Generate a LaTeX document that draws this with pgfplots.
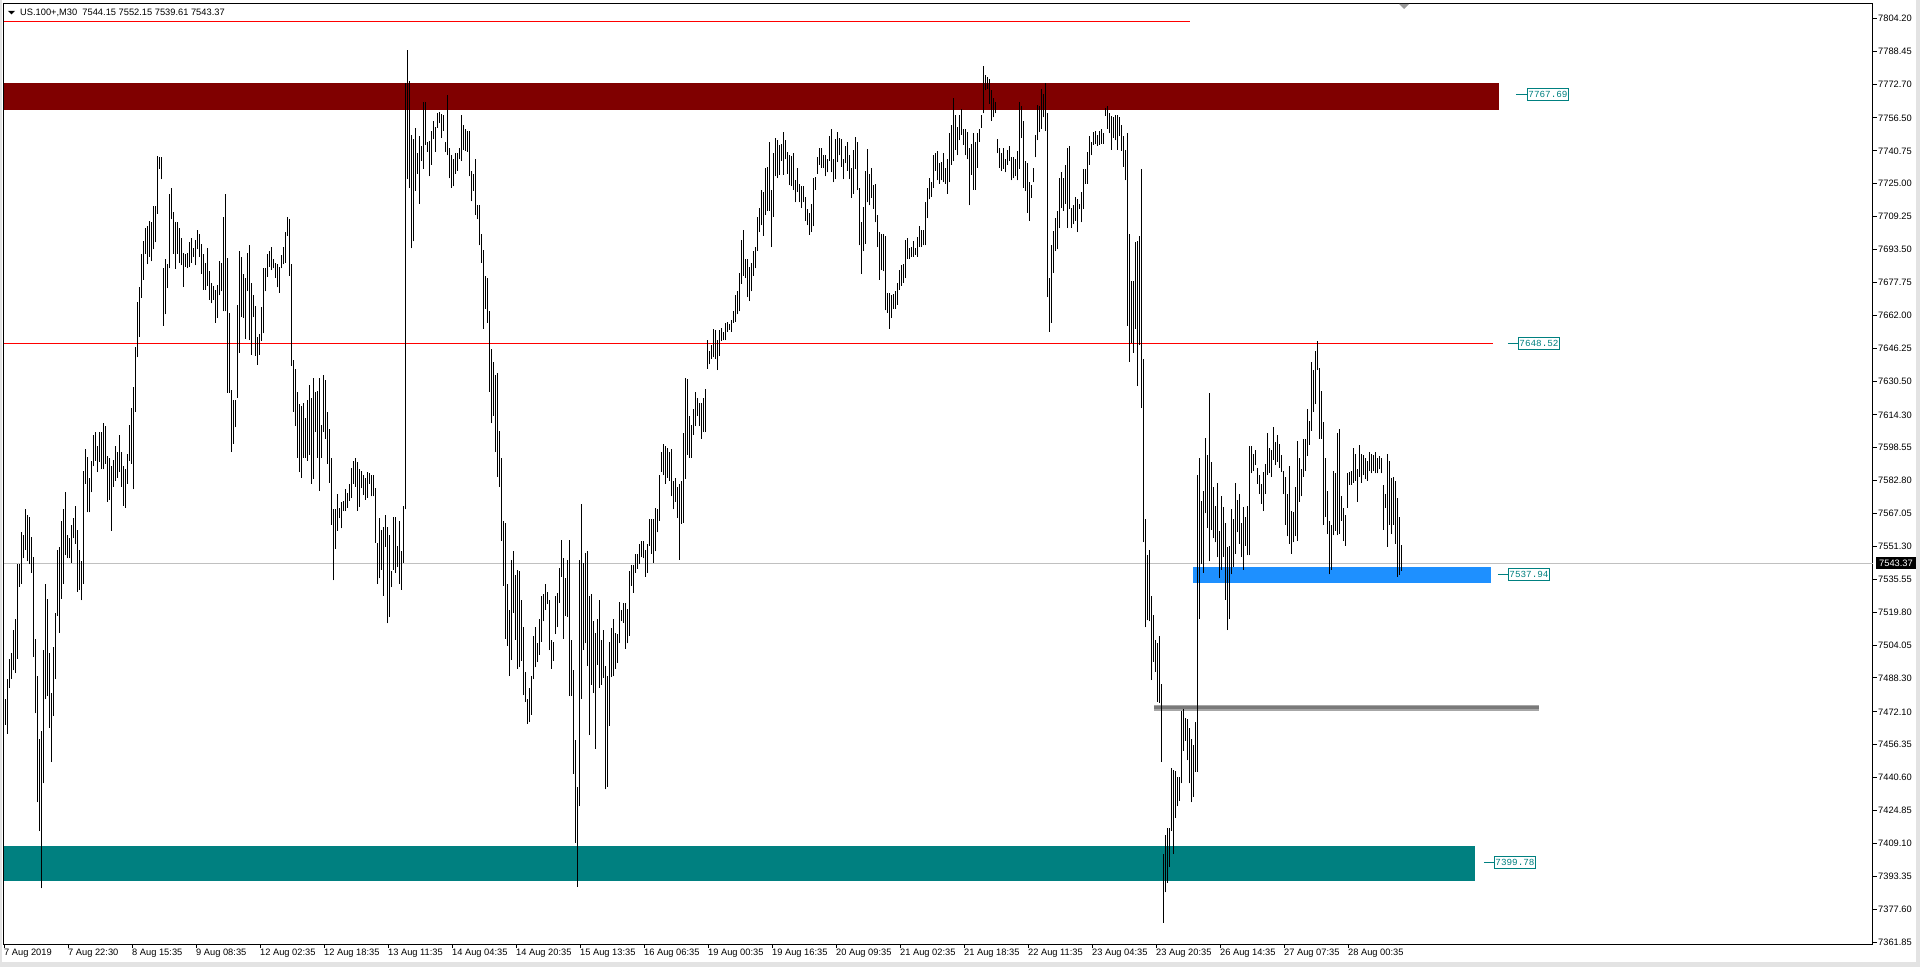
\documentclass[border=0pt]{standalone}
\usepackage{fontspec}
\setmainfont{Liberation Sans}
\newfontfamily\monofont{Liberation Mono}
\usepackage{pgfplots}
\usepackage{pgfplotstable}
\pgfplotsset{compat=1.18}
\definecolor{mtmaroon}{HTML}{800000}
\definecolor{mtblue}{HTML}{1E90FF}
\definecolor{mtteal}{HTML}{008080}
\definecolor{mtsilver}{HTML}{C0C0C0}
\definecolor{mtgray}{HTML}{808080}
\definecolor{mtframe}{HTML}{E3E3E3}
\pgfplotstableread{
lo hi
7465.8 7478.2
7461.7 7487.8
7483.7 7497.5
7487.8 7500.2
7492.0 7511.2
7490.6 7516.7
7497.5 7542.8
7531.8 7542.8
7533.2 7558.0
7545.6 7556.6
7549.7 7569.0
7544.2 7566.2
7542.8 7565.4
7538.7 7556.0
7498.3 7546.1
7471.4 7507.1
7428.7 7489.2
7415.0 7459.0
7387.5 7463.1
7437.8 7501.6
7478.2 7533.2
7479.6 7526.3
7464.5 7500.2
7448.0 7481.0
7470.0 7503.0
7487.8 7519.5
7518.1 7549.7
7509.9 7551.1
7526.3 7563.5
7533.2 7569.0
7547.0 7577.2
7545.6 7556.6
7545.6 7555.2
7543.4 7561.5
7555.2 7564.9
7552.5 7570.9
7529.6 7559.4
7530.5 7549.7
7525.5 7544.2
7533.2 7587.4
7581.4 7597.9
7567.6 7594.3
7567.6 7584.1
7577.2 7592.4
7589.6 7604.7
7592.4 7606.1
7586.9 7599.2
7591.8 7606.1
7588.2 7606.1
7588.2 7610.2
7591.0 7608.9
7572.6 7594.6
7573.7 7593.7
7558.8 7589.6
7580.0 7592.9
7582.7 7599.2
7584.1 7596.5
7586.9 7604.7
7580.0 7596.5
7570.9 7589.6
7569.8 7588.2
7581.4 7595.7
7592.4 7609.4
7591.0 7617.6
7578.6 7627.5
7615.7 7646.8
7641.9 7668.2
7651.5 7675.4
7670.4 7691.4
7679.0 7697.4
7691.4 7703.7
7686.4 7704.6
7690.0 7707.0
7687.8 7706.5
7693.6 7714.2
7696.9 7714.2
7710.6 7738.1
7732.1 7737.6
7727.1 7737.6
7657.0 7684.5
7662.5 7689.2
7674.9 7686.4
7684.5 7720.0
7707.9 7723.0
7691.4 7711.7
7684.2 7706.5
7691.4 7706.5
7687.2 7703.7
7685.9 7699.1
7675.7 7691.9
7685.3 7691.4
7684.5 7691.9
7685.3 7696.9
7687.2 7699.1
7690.0 7694.1
7685.9 7698.2
7693.6 7702.9
7690.0 7701.0
7681.7 7696.3
7674.3 7691.4
7674.3 7687.2
7676.2 7694.1
7669.4 7683.1
7667.7 7677.6
7669.4 7676.2
7658.4 7674.3
7660.6 7676.5
7671.6 7688.1
7673.5 7687.2
7663.9 7709.2
7663.9 7720.0
7624.8 7689.4
7624.8 7663.3
7596.5 7626.2
7600.6 7621.2
7608.3 7621.2
7622.6 7667.1
7644.1 7692.7
7661.1 7690.0
7660.6 7681.7
7650.6 7679.8
7673.5 7691.9
7650.1 7695.5
7643.2 7677.6
7661.1 7671.6
7642.7 7666.6
7638.3 7651.5
7643.2 7652.9
7649.6 7666.0
7653.4 7684.5
7673.5 7684.5
7680.4 7691.4
7685.3 7692.7
7683.6 7694.6
7684.5 7689.2
7679.8 7687.2
7675.4 7686.4
7672.7 7685.3
7684.5 7690.8
7686.4 7694.6
7687.2 7701.8
7700.2 7709.2
7680.9 7707.9
7637.7 7686.4
7615.7 7640.5
7608.9 7636.3
7593.7 7625.4
7586.9 7619.3
7584.1 7618.5
7593.7 7619.9
7593.7 7613.0
7592.4 7621.2
7595.1 7628.7
7581.4 7622.6
7583.6 7632.2
7606.1 7625.4
7593.7 7625.9
7578.0 7632.2
7593.7 7609.4
7606.1 7633.6
7602.8 7630.9
7591.0 7615.7
7581.9 7607.5
7561.6 7593.7
7535.1 7569.0
7550.3 7569.0
7558.8 7576.4
7564.9 7569.8
7559.9 7572.6
7568.2 7573.1
7568.2 7578.6
7569.8 7577.0
7573.1 7581.4
7574.5 7589.1
7581.4 7592.4
7580.0 7593.7
7568.4 7591.8
7570.4 7588.2
7579.1 7587.4
7575.9 7585.5
7573.7 7584.1
7574.5 7586.9
7581.4 7586.3
7575.3 7585.5
7575.3 7585.5
7553.0 7579.4
7533.2 7553.0
7536.0 7564.9
7540.1 7559.4
7527.7 7560.7
7551.1 7566.2
7514.5 7560.7
7517.5 7556.6
7531.8 7539.6
7540.1 7565.4
7538.7 7565.4
7541.5 7551.7
7533.2 7563.5
7530.5 7548.9
7543.4 7570.9
7569.0 7773.3
7727.1 7789.0
7723.0 7774.4
7694.1 7748.5
7697.4 7746.3
7721.6 7751.9
7729.9 7739.5
7715.5 7747.7
7735.9 7743.0
7732.1 7764.2
7743.6 7764.2
7740.3 7745.0
7728.5 7745.5
7734.0 7750.5
7746.3 7755.2
7740.3 7752.4
7751.9 7758.7
7754.1 7759.3
7746.9 7758.5
7750.5 7757.9
7740.3 7745.0
7738.6 7767.5
7727.6 7742.2
7723.0 7738.6
7723.8 7736.7
7729.9 7739.5
7731.2 7739.5
7736.7 7742.2
7735.9 7757.9
7741.4 7753.2
7740.9 7751.3
7740.3 7750.5
7728.5 7750.5
7716.6 7731.2
7721.6 7729.9
7710.0 7736.7
7707.9 7714.7
7695.5 7714.7
7687.2 7701.0
7655.6 7693.3
7665.2 7680.9
7658.4 7679.8
7625.4 7663.9
7610.2 7646.0
7613.8 7639.7
7596.5 7633.6
7584.7 7634.2
7580.0 7606.7
7553.9 7593.7
7532.4 7563.5
7507.1 7562.7
7503.8 7533.2
7489.2 7520.9
7496.9 7545.0
7519.5 7548.9
7506.6 7537.4
7492.8 7540.1
7493.4 7539.6
7496.6 7525.5
7480.1 7512.6
7476.9 7491.1
7466.4 7478.2
7467.2 7483.7
7470.8 7489.2
7487.8 7508.5
7493.4 7512.6
7496.1 7504.9
7499.4 7516.7
7505.7 7527.7
7515.4 7528.5
7520.9 7533.2
7523.6 7529.7
7501.6 7525.8
7492.8 7506.6
7496.6 7505.7
7509.3 7527.7
7512.6 7529.1
7524.1 7540.9
7536.8 7554.4
7507.1 7545.6
7518.1 7536.0
7517.5 7545.0
7479.6 7554.4
7479.6 7506.6
7442.5 7492.0
7409.5 7458.4
7388.3 7436.1
7426.8 7545.0
7478.2 7571.5
7501.6 7543.4
7504.9 7548.4
7494.0 7548.9
7460.9 7527.7
7485.1 7528.5
7481.0 7515.4
7454.3 7509.9
7494.7 7516.7
7483.7 7525.5
7485.1 7506.6
7488.4 7511.2
7435.0 7493.9
7436.1 7489.2
7465.3 7505.7
7488.7 7512.1
7489.2 7516.7
7492.8 7509.9
7495.6 7509.3
7504.9 7524.7
7515.4 7520.9
7514.8 7524.1
7502.4 7524.1
7504.9 7521.4
7508.5 7539.6
7532.4 7542.3
7529.1 7542.3
7538.7 7547.8
7540.7 7547.8
7542.8 7552.5
7546.2 7553.9
7545.6 7553.9
7536.8 7549.7
7538.7 7552.5
7551.7 7564.3
7547.8 7564.3
7543.4 7564.3
7548.9 7569.8
7558.0 7569.0
7563.5 7585.5
7586.9 7596.5
7585.5 7600.6
7581.4 7599.2
7584.1 7598.4
7582.7 7596.5
7575.3 7597.9
7569.0 7582.7
7572.6 7584.1
7564.9 7580.0
7545.0 7581.4
7562.1 7582.7
7562.7 7605.6
7583.6 7632.2
7595.1 7631.4
7593.7 7613.8
7593.7 7609.4
7604.7 7617.1
7608.9 7625.4
7613.8 7622.6
7608.9 7619.9
7602.8 7619.9
7606.1 7622.6
7606.1 7626.7
7636.3 7650.1
7638.5 7645.1
7641.3 7647.9
7641.9 7655.6
7641.3 7655.0
7635.8 7650.1
7642.4 7655.0
7649.6 7656.1
7650.1 7654.2
7650.1 7658.4
7654.2 7658.9
7655.0 7657.8
7654.2 7659.7
7658.4 7663.9
7658.9 7671.6
7662.5 7673.5
7663.9 7682.5
7677.1 7698.2
7680.9 7702.9
7679.8 7689.2
7670.7 7689.2
7668.8 7685.3
7673.5 7687.2
7680.9 7692.7
7684.5 7694.6
7692.7 7709.2
7701.8 7713.3
7705.1 7722.1
7700.2 7721.0
7710.0 7732.6
7712.0 7733.2
7712.0 7745.0
7694.6 7722.1
7709.2 7739.5
7728.5 7746.9
7727.6 7745.8
7729.3 7743.6
7735.9 7744.2
7729.3 7749.7
7736.7 7745.8
7729.9 7740.3
7724.4 7738.6
7723.8 7738.1
7722.1 7739.5
7716.1 7726.6
7721.0 7732.6
7716.1 7724.9
7713.3 7723.8
7716.1 7723.8
7707.3 7718.9
7705.1 7712.8
7700.7 7711.2
7701.8 7715.5
7704.6 7727.6
7722.1 7728.2
7729.9 7737.6
7734.0 7742.2
7732.6 7742.2
7732.6 7738.6
7728.5 7738.6
7730.4 7736.7
7735.9 7747.7
7730.4 7751.3
7725.7 7736.7
7727.1 7746.3
7735.4 7749.7
7738.6 7746.9
7733.2 7746.3
7727.1 7736.7
7734.8 7743.0
7731.2 7745.0
7727.1 7738.6
7718.3 7732.6
7720.2 7741.4
7732.1 7747.4
7722.1 7745.0
7695.5 7723.0
7681.7 7706.5
7692.7 7713.9
7696.3 7731.2
7716.1 7741.7
7714.7 7729.9
7718.3 7732.6
7712.8 7724.4
7706.5 7724.9
7694.6 7710.0
7679.0 7701.8
7683.6 7701.0
7683.1 7701.0
7664.4 7700.2
7663.3 7672.7
7655.6 7672.7
7660.6 7671.6
7665.2 7672.1
7665.2 7673.5
7667.1 7677.6
7674.3 7683.6
7676.2 7685.9
7677.6 7686.4
7679.8 7698.2
7689.2 7699.1
7689.2 7694.1
7690.0 7694.6
7690.0 7697.4
7690.8 7694.1
7690.0 7699.6
7694.6 7704.6
7694.6 7702.9
7695.5 7702.9
7695.5 7716.1
7708.4 7723.0
7717.5 7727.6
7718.9 7725.7
7723.0 7738.6
7731.2 7739.5
7726.6 7740.9
7724.9 7734.8
7726.6 7735.4
7725.7 7739.5
7724.9 7732.6
7720.2 7736.7
7725.7 7749.1
7734.0 7753.2
7735.9 7766.2
7741.4 7757.9
7738.6 7752.4
7745.8 7757.9
7748.5 7760.7
7743.6 7751.3
7738.6 7751.3
7736.7 7749.7
7714.7 7742.2
7729.3 7744.2
7722.1 7749.1
7722.1 7745.0
7732.6 7749.1
7745.0 7751.3
7751.9 7757.9
7758.7 7781.5
7769.7 7777.1
7770.5 7776.1
7763.4 7775.2
7755.2 7769.7
7756.8 7766.2
7758.7 7764.2
7739.5 7746.3
7732.6 7742.2
7731.2 7739.5
7732.1 7742.2
7730.4 7736.7
7734.0 7741.4
7735.9 7743.0
7726.6 7737.6
7727.6 7737.6
7728.5 7736.7
7726.6 7740.9
7732.1 7764.2
7746.9 7762.3
7723.0 7755.2
7721.6 7735.9
7711.2 7734.8
7707.3 7725.7
7718.3 7724.4
7725.7 7732.6
7737.6 7748.5
7745.8 7762.9
7749.7 7762.3
7751.3 7770.5
7756.8 7767.8
7750.5 7773.3
7670.7 7758.7
7654.2 7679.8
7658.4 7695.5
7682.5 7702.4
7692.7 7708.4
7693.6 7712.0
7703.7 7727.6
7713.3 7730.4
7712.0 7727.6
7715.5 7734.0
7703.7 7742.2
7712.8 7743.0
7703.7 7713.3
7705.6 7714.7
7707.3 7718.9
7701.8 7717.5
7712.8 7715.5
7706.5 7721.0
7712.8 7732.1
7724.9 7732.1
7724.9 7740.3
7734.0 7747.7
7738.6 7745.0
7743.6 7749.7
7744.2 7750.5
7743.0 7748.5
7743.6 7750.5
7744.2 7751.3
7744.2 7749.1
7757.4 7761.5
7751.3 7762.3
7749.1 7758.7
7741.4 7757.4
7746.9 7756.8
7745.8 7757.9
7741.4 7757.9
7747.7 7756.8
7740.9 7753.2
7733.2 7747.7
7726.6 7741.4
7657.0 7749.1
7639.7 7701.0
7648.7 7678.2
7644.1 7678.2
7655.6 7696.9
7628.1 7697.4
7647.9 7700.2
7617.6 7732.1
7553.3 7641.3
7512.6 7564.3
7515.9 7547.0
7515.4 7549.7
7487.3 7527.7
7496.1 7518.7
7491.2 7506.6
7476.9 7504.9
7476.3 7508.5
7448.0 7485.6
7371.0 7404.0
7385.6 7413.0
7390.2 7416.4
7397.7 7416.4
7415.0 7445.2
7404.0 7444.4
7421.3 7443.9
7426.8 7441.1
7429.6 7441.1
7437.8 7472.7
7453.5 7473.6
7458.2 7469.1
7448.8 7468.6
7437.8 7464.5
7428.7 7459.0
7431.5 7456.2
7443.3 7467.2
7443.3 7585.5
7516.7 7593.7
7542.8 7573.1
7538.7 7578.0
7567.1 7603.4
7559.9 7595.1
7544.2 7624.8
7559.4 7591.8
7555.2 7580.0
7553.3 7570.9
7546.2 7581.9
7536.0 7558.8
7540.1 7575.3
7546.2 7570.4
7525.8 7562.7
7511.2 7551.1
7516.7 7551.7
7537.9 7569.0
7541.5 7564.3
7547.8 7581.9
7558.0 7573.7
7552.5 7576.4
7546.2 7562.7
7540.1 7570.4
7551.7 7565.4
7547.0 7570.9
7547.0 7599.2
7586.3 7599.2
7587.4 7595.7
7590.2 7597.3
7581.4 7589.1
7576.4 7585.5
7571.7 7581.4
7568.2 7586.9
7576.4 7591.0
7585.5 7605.6
7586.3 7598.4
7584.7 7597.3
7592.9 7608.3
7590.2 7601.2
7591.8 7604.7
7589.1 7600.6
7586.9 7595.1
7576.4 7587.4
7561.6 7584.7
7556.1 7576.4
7552.5 7589.6
7547.8 7568.2
7553.3 7567.6
7556.1 7580.0
7553.9 7602.0
7572.6 7593.7
7575.3 7588.2
7584.7 7602.8
7587.4 7602.8
7594.6 7617.1
7600.0 7611.6
7606.7 7639.7
7615.7 7635.8
7619.3 7645.1
7635.8 7649.6
7602.8 7636.9
7602.8 7625.9
7561.6 7611.0
7565.4 7593.7
7557.2 7578.0
7537.9 7563.5
7540.1 7561.6
7556.6 7587.4
7558.8 7586.3
7556.6 7605.6
7557.2 7607.5
7563.5 7575.3
7553.9 7569.8
7551.7 7566.2
7569.8 7586.3
7580.8 7586.9
7580.8 7587.4
7581.9 7598.4
7582.7 7595.7
7572.6 7588.2
7584.7 7600.1
7581.9 7595.7
7585.5 7595.1
7583.6 7593.7
7582.7 7592.4
7587.4 7596.5
7586.3 7595.7
7587.4 7595.1
7586.3 7596.5
7586.3 7593.7
7588.2 7594.6
7586.3 7593.7
7559.4 7580.8
7569.8 7576.4
7551.1 7595.7
7561.6 7592.4
7557.2 7584.1
7561.6 7584.7
7552.5 7582.7
7536.8 7574.5
7537.4 7565.4
7539.6 7552.2
}\bardata
\begin{document}
\begin{tikzpicture}[x=1pt,y=1pt]
\begin{axis}[
  at={(0,0)}, anchor=south west,
  width=1869pt, height=940pt, scale only axis,
  xmin=-0.5, xmax=934, ymin=7360.9, ymax=7811.1,
  clip=false,
  axis line style={black, line width=1pt},
  tick align=outside, major tick length=4pt,
  tick style={black, line width=1pt},
  xtick pos=left, ytick pos=right, yticklabel pos=right,
  xtick={0,32,64,96,128,160,192,224,256,288,320,352,384,416,448,480,512,544,576,608,640,672},
  xticklabels={7 Aug 2019,7 Aug 22:30,8 Aug 15:35,9 Aug 08:35,12 Aug 02:35,12 Aug 18:35,13 Aug 11:35,14 Aug 04:35,14 Aug 20:35,15 Aug 13:35,16 Aug 06:35,19 Aug 00:35,19 Aug 16:35,20 Aug 09:35,21 Aug 02:35,21 Aug 18:35,22 Aug 11:35,23 Aug 04:35,23 Aug 20:35,26 Aug 14:35,27 Aug 07:35,28 Aug 00:35},
  ytick={7361.85,7377.60,7393.35,7409.10,7424.85,7440.60,7456.35,7472.10,7488.30,7504.05,7519.80,7535.55,7551.30,7567.05,7582.80,7598.55,7614.30,7630.50,7646.25,7662.00,7677.75,7693.50,7709.25,7725.00,7740.75,7756.50,7772.70,7788.45,7804.20},
  yticklabels={7361.85,7377.60,7393.35,7409.10,7424.85,7440.60,7456.35,7472.10,7488.30,7504.05,7519.80,7535.55,7551.30,7567.05,7582.80,7598.55,7614.30,7630.50,7646.25,7662.00,7677.75,7693.50,7709.25,7725.00,7740.75,7756.50,7772.70,7788.45,7804.20},
  ticklabel style={font=\fontsize{9.3}{10}\selectfont, text=black},
  xticklabel style={anchor=north west, inner sep=0pt, xshift=-1pt, yshift=-1pt},
  yticklabel style={anchor=west, inner sep=0pt, xshift=1pt},
]
\coordinate (O) at (rel axis cs:0,0);
\fill[mtmaroon] (axis cs:-0.5,7760.1) rectangle (axis cs:747,7773.4);
\fill[mtteal] (axis cs:-0.5,7391.2) rectangle (axis cs:735,7407.8);
\fill[mtblue] (axis cs:594,7533.9) rectangle (axis cs:743,7541.5);
\draw[mtsilver, line width=1pt] (axis cs:-0.5,7543.37) -- (axis cs:934,7543.37);
\draw[red, line width=1.5pt] (axis cs:-0.5,7648.52) -- (axis cs:744,7648.52);
\draw[red, line width=1pt] (axis cs:-0.5,7802.95) -- (axis cs:592.5,7802.95);
\draw[mtgray!70, line width=6pt] (axis cs:574.5,7474.0) -- (axis cs:767,7474.0);
\draw[mtgray!95!black, line width=3.5pt] (axis cs:574.5,7474.2) -- (axis cs:767,7474.2);
\addplot[draw=none, mark=none, forget plot,
  error bars/.cd, y dir=plus, y explicit, error mark=none,
  error bar style={draw=black, solid, line width=1.1pt}]
  table[x expr=\coordindex+0.25, y=lo, y error plus expr=\thisrow{hi}-\thisrow{lo}] {\bardata};
\draw[mtteal, line width=1pt] (axis cs:755.5,7767.69) -- (axis cs:761,7767.69)
  node[anchor=west, draw=mtteal, fill=white, line width=1pt, inner xsep=1pt, inner ysep=0pt, minimum height=12pt, text=mtteal, font=\monofont\fontsize{9.3}{10}\selectfont] {7767.69};
\draw[mtteal, line width=1pt] (axis cs:751.5,7648.52) -- (axis cs:756.5,7648.52)
  node[anchor=west, draw=mtteal, fill=white, line width=1pt, inner xsep=1pt, inner ysep=0pt, minimum height=12pt, text=mtteal, font=\monofont\fontsize{9.3}{10}\selectfont] {7648.52};
\draw[mtteal, line width=1pt] (axis cs:746.5,7537.94) -- (axis cs:751.5,7537.94)
  node[anchor=west, draw=mtteal, fill=white, line width=1pt, inner xsep=1pt, inner ysep=0pt, minimum height=12pt, text=mtteal, font=\monofont\fontsize{9.3}{10}\selectfont] {7537.94};
\draw[mtteal, line width=1pt] (axis cs:739.5,7399.78) -- (axis cs:744.5,7399.78)
  node[anchor=west, draw=mtteal, fill=white, line width=1pt, inner xsep=1pt, inner ysep=0pt, minimum height=12pt, text=mtteal, font=\monofont\fontsize{9.3}{10}\selectfont] {7399.78};
\node[anchor=west, fill=black, text=white, inner xsep=3.5pt, inner ysep=0pt, minimum height=12pt, font=\fontsize{9.3}{10}\selectfont, xshift=2.5pt] at (axis cs:934,7543.37) {7543.37};
\end{axis}
\begin{scope}[shift={(O)}]
\fill[mtframe] (-4,-23) rectangle (-1.5,944);
\fill[mtframe] (-4,-23) rectangle (1916,-18);
\fill[mtframe] (1911.5,-23) rectangle (1916,944);
\fill[mtgray!80] (1395,940) -- (1405,940) -- (1400,935) -- cycle;
\fill[black] (4,933) -- (11,933) -- (7.5,929.5) -- cycle;
\node[anchor=base west, inner sep=0pt, font=\fontsize{9.3}{10}\selectfont] at (16,928.5) {US.100+,M30\ \ 7544.15 7552.15 7539.61 7543.37};
\end{scope}
\pgfresetboundingbox
\path[use as bounding box, shift={(O)}] (-4,-23) rectangle (1916,944);
\end{tikzpicture}
\end{document}
